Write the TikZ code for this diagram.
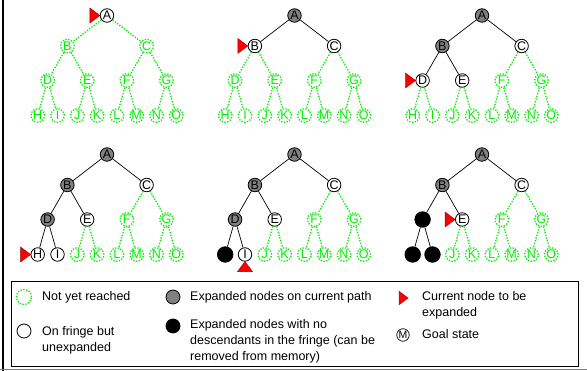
\documentclass[tikz,border=0pt]{standalone}
\usepackage{fontspec}
\setmainfont{Liberation Sans}
\definecolor{reach}{RGB}{0,235,0}
\newcommand{\treelabel}[1]{#1}
\newcommand{\droplabel}[1]{}
\tikzset{
  treenode/.style={circle, inner sep=0pt, minimum size=13.5pt, font=\fontsize{12.5}{14}\selectfont},
  unreached/.style={treenode, draw=reach, text=reach, fill=none, line width=1.3pt, dash pattern=on 1.3pt off 1.5pt},
  fringe/.style={treenode, draw=black, text=black, fill=white, line width=0.8pt, solid},
  expanded/.style={fringe, fill=gray},
  removed/.style={fringe, fill=black, minimum size=15.5pt, execute at begin node={\let\treelabel\droplabel}},
  tree edge/.style={draw=black, line width=0.7pt, solid},
  open edge/.style={draw=reach, line width=1.3pt, dash pattern=on 1.3pt off 1.5pt},
  st/.style={unreached, state #1/.try},
  lk/.style={open edge, link #1/.try},
  put/.style 2 args={state #1/.style={#2}, link #1/.style={tree edge}},
  cursor/.pic={\filldraw[fill=red, draw=red!55!black, line width=0.4pt] (0,0) -- (-10,-7.5) -- (-10,7.5) -- cycle;},
  keytext/.style={anchor=west, inner sep=0pt, align=left, font=\fontsize{12.5}{16}\selectfont},
}
\newcommand{\searchtree}{%
  \foreach \n/\x/\y in {A/0/0, B/-39.6/30.5, C/39.6/30.5,
      D/-59.4/65, E/-19.8/65, F/19.8/65, G/59.4/65,
      H/-69.3/100, I/-49.5/100, J/-29.7/100, K/-9.9/100,
      L/9.9/100, M/29.7/100, N/49.5/100, O/69.3/100}
    \node[st/.expanded=\n] (\n) at (\x,\y) {\treelabel{\n}};
  \foreach \p/\c in {A/B, A/C, B/D, B/E, C/F, C/G, D/H, D/I,
      E/J, E/K, F/L, F/M, G/N, G/O}
    \draw[lk/.expanded=\c] (\p) -- (\c);
}
\begin{document}
\begin{tikzpicture}[x=1pt, y=-1pt]
  \useasboundingbox (0,0) rectangle (587,371);
  \draw[line width=2.5pt] (3,0) -- (3,371);
  \draw[gray, line width=1.5pt] (0,369.5) -- (587,369.5);

  % top row
  \begin{scope}[shift={(107,15.5)}, name prefix=t1-, put={A}{fringe}]
    \searchtree
    \pic at (A.west) {cursor};
  \end{scope}
  \begin{scope}[shift={(294.5,15.5)}, name prefix=t2-, put={A}{expanded},
      put={B}{fringe}, put={C}{fringe}]
    \searchtree
    \pic at (B.west) {cursor};
  \end{scope}
  \begin{scope}[shift={(482,15.5)}, name prefix=t3-, put={A}{expanded},
      put={B}{expanded}, put={C}{fringe}, put={D}{fringe}, put={E}{fringe}]
    \searchtree
    \pic at (D.west) {cursor};
  \end{scope}

  % bottom row
  \begin{scope}[shift={(107,154.5)}, name prefix=t4-, put={A}{expanded},
      put={B}{expanded}, put={C}{fringe}, put={D}{expanded}, put={E}{fringe},
      put={H}{fringe}, put={I}{fringe}]
    \searchtree
    \pic at (H.west) {cursor};
  \end{scope}
  \begin{scope}[shift={(294.5,154.5)}, name prefix=t5-, put={A}{expanded},
      put={B}{expanded}, put={C}{fringe}, put={D}{expanded}, put={E}{fringe},
      put={H}{removed}, put={I}{fringe}]
    \searchtree
    \pic[rotate=90] at (I.south) {cursor};
  \end{scope}
  \begin{scope}[shift={(482,154.5)}, name prefix=t6-, put={A}{expanded},
      put={B}{expanded}, put={C}{fringe}, put={D}{removed}, put={E}{fringe},
      put={H}{removed}, put={I}{removed}]
    \searchtree
    \pic at (E.west) {cursor};
  \end{scope}

  % legend
  \draw[line width=0.8pt] (11,281) rectangle (578,366);
  \node[unreached, minimum size=15pt] (keyopen) at (24,297) {};
  \node[fringe, minimum size=14pt] (keyfringe) at (24,331) {};
  \node[expanded, minimum size=14pt] (keypath) at (173,297) {};
  \node[removed, minimum size=14pt] (keygone) at (173,326) {};
  \pic[scale=0.9] at (408,298) {cursor};
  \node[fringe, minimum size=12.5pt, line width=0.7pt, font=\fontsize{10.5}{10.5}\selectfont] (keygoal) at (403,335) {M};
  \node[keytext] (txtopen) at (42,297) {Not yet reached};
  \node[keytext] (txtfringe) at (42,340) {On fringe but\\unexpanded};
  \node[keytext] (txtpath) at (190,297) {Expanded nodes on current path};
  \node[keytext] (txtgone) at (190,341) {Expanded nodes with no\\descendants in the fringe (can be\\removed from memory)};
  \node[keytext] (txtcur) at (422,305) {Current node to be\\expanded};
  \node[keytext] (txtgoal) at (422,334) {Goal state};
\end{tikzpicture}
\end{document}
